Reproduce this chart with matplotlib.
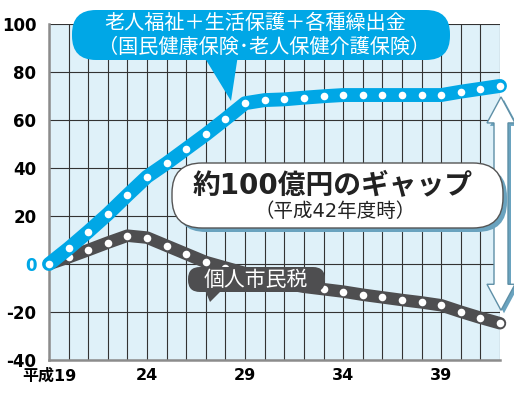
import numpy as np
import matplotlib
matplotlib.use("Agg")
from matplotlib import pyplot as plt
from matplotlib.patches import FancyBboxPatch, Polygon
from matplotlib.transforms import IdentityTransform

plt.rcParams['font.family'] = ['Noto Sans CJK JP', 'DejaVu Sans']
LATIN_FIRST = ['DejaVu Sans', 'Noto Sans CJK JP']

# 年度 (平成)
years = list(range(19, 43))
# 老人福祉+生活保護+各種繰出金 (億円, 平成19年度比)
welfare = [0, 6.5, 13.5, 20.8, 28.7, 36.4, 42, 48, 54, 60.4, 67,
           68.3, 68.6, 69.3, 69.9, 70.4, 70.4, 70.4, 70.4, 70.4, 70.4,
           71.8, 73, 74.2]
# 個人市民税
tax = [0, 2.8, 5.8, 8.9, 11.8, 11, 7.6, 4.2, 0.8, -1.5, -3.8,
       -6, -8, -9.5, -10.5, -11.5, -12.8, -13.9, -15, -16, -17.2,
       -19.9, -22.4, -24.7]
year_labels = {19: "平成19", 24: "24", 29: "29", 34: "34", 39: "39"}
yticks = [-40, -20, 0, 20, 40, 60, 80, 100]

BLUE = "#00a7e6"
GRAY = "#4e4e50"
SHADOW = "#6aa3bf"
W, H = 514, 397

fig = plt.figure(figsize=(W / 100, H / 100), dpi=100)
ax = fig.add_axes([49 / W, 1 - 360 / H, 451 / W, 336 / H])
ax.set_facecolor("#dff1f9")
ax.set_xlim(19, 42)
ax.set_ylim(-40, 100)

ax.set_xticks(years)
ax.set_xticklabels([year_labels.get(y, "") for y in years],
                   fontsize=11.5, fontweight="bold", family=LATIN_FIRST)
ax.set_yticks(yticks)
ax.set_yticklabels([str(v) for v in yticks], fontsize=12, fontweight="bold",
                   family=LATIN_FIRST)
for lab, v in zip(ax.get_yticklabels(), yticks):
    if v == 0:
        lab.set_color(BLUE)
ax.tick_params(length=0, pad=9)
ax.tick_params(axis="x", pad=6)
ax.grid(True, color="#333333", linewidth=0.8)
ax.set_axisbelow(True)
for s in ["top", "right"]:
    ax.spines[s].set_visible(False)
for s in ["left", "bottom"]:
    ax.spines[s].set_color("#8c8c8c")
    ax.spines[s].set_linewidth(1.8)

ax.plot(years, tax, color=GRAY, lw=9, solid_capstyle="round",
        solid_joinstyle="round", zorder=3, clip_on=False)
ax.scatter(years, tax, s=30, color="white", zorder=4, clip_on=False, lw=0)
ax.plot(years, welfare, color=BLUE, lw=10, solid_capstyle="round",
        solid_joinstyle="round", zorder=5, clip_on=False)
ax.scatter(years, welfare, s=30, color="white", zorder=6, clip_on=False, lw=0)

ident = IdentityTransform()


def box(x0, y0, x1, y1, r, fc, ec="none", lw=0, z=2):
    p = FancyBboxPatch((x0, H - y1), x1 - x0, y1 - y0,
                       boxstyle=f"round,pad=0,rounding_size={r}",
                       fc=fc, ec=ec, lw=lw, transform=ident, zorder=z)
    fig.add_artist(p)


def poly(pts, fc, ec="none", lw=0, z=2):
    p = Polygon([(x, H - y) for x, y in pts], closed=True, fc=fc, ec=ec,
                lw=lw, transform=ident, zorder=z)
    fig.add_artist(p)


# gap arrow, anchored to the last values of both series
x_end, y_top = ax.transData.transform((42, welfare[-1]))
_, y_bot = ax.transData.transform((42, tax[-1]))
cx = x_end + 1
top = H - y_top + 11
bot = H - y_bot - 13
hw, sw, hl = 14, 7, 26
arrow = [(cx, top), (cx + hw, top + hl), (cx + sw, top + hl),
         (cx + sw, bot - hl), (cx + hw, bot - hl), (cx, bot),
         (cx - hw, bot - hl), (cx - sw, bot - hl), (cx - sw, top + hl),
         (cx - hw, top + hl)]
poly([(x + 3, y + 3) for x, y in arrow], SHADOW, z=2)
poly(arrow, "white", ec="#5e8fa6", lw=1, z=3)

# gap box
box(176, 167, 507, 232, 30, SHADOW, z=4)
box(172, 163, 503, 228, 30, "white", ec="#555555", lw=1, z=5)
fig.text(333 / W, 1 - 186 / H, "約100億円のギャップ", fontsize=20,
         fontweight="bold", color="#222222", ha="center", va="center",
         zorder=6, family=LATIN_FIRST)
fig.text(335 / W, 1 - 212 / H, "（平成42年度時）", fontsize=14,
         color="#222222", ha="center", va="center", zorder=6,
         family=LATIN_FIRST)

# welfare callout
poly([(203, 55), (238, 55), (231, 101)], BLUE, z=4)
box(72, 10, 450, 60, 24, BLUE, z=4)
fig.text(255 / W, 1 - 23 / H, "老人福祉＋生活保護＋各種繰出金", fontsize=14.5,
         color="white", ha="center", va="center", zorder=6)
fig.text(264 / W, 1 - 47 / H, "（国民健康保険･老人保健介護保険）", fontsize=14.5,
         color="white", ha="center", va="center", zorder=6)

# tax label
poly([(204, 288), (224, 288), (210, 302)], GRAY, z=4)
box(188, 267, 325, 292, 12, GRAY, z=4)
fig.text(256 / W, 1 - 280 / H, "個人市民税", fontsize=15,
         color="white", ha="center", va="center", zorder=6)

fig.savefig("out.png", dpi=100)
